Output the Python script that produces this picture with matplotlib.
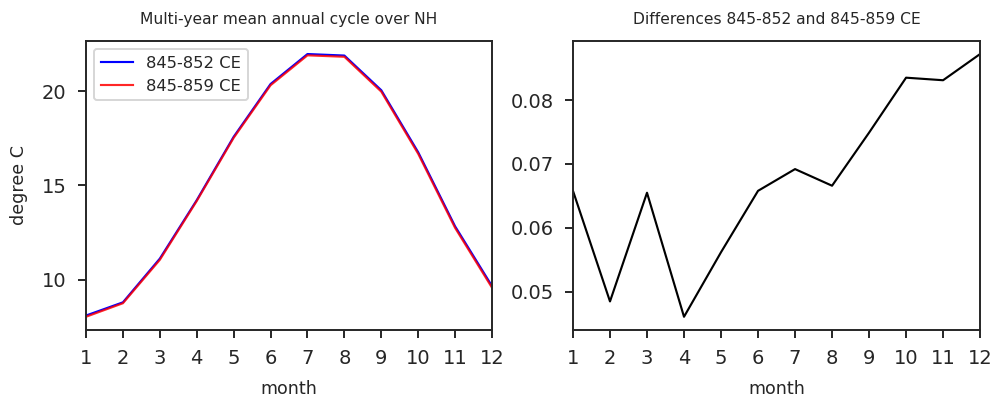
import matplotlib
matplotlib.use('Agg')
import matplotlib.pyplot as plt

months = [1, 2, 3, 4, 5, 6, 7, 8, 9, 10, 11, 12]
nh_845_852 = [8.10, 8.80, 11.12, 14.22, 17.58, 20.38, 21.97, 21.89, 20.05, 16.76, 12.83, 9.66]
nh_845_859 = [8.0342, 8.7515, 11.0545, 14.1739, 17.5238, 20.3142,
              21.9008, 21.8234, 19.9751, 16.6765, 12.7469, 9.5728]

diff = [a - b for a, b in zip(nh_845_852, nh_845_859)]

plt.rcParams['text.color'] = '0.15'
plt.rcParams['axes.labelcolor'] = '0.15'
plt.rcParams['xtick.color'] = '0.15'
plt.rcParams['ytick.color'] = '0.15'
plt.rcParams['axes.edgecolor'] = '0.15'

fig = plt.figure(figsize=(992 / 140, 397 / 140), dpi=140)
ax1 = fig.add_axes([0.0867, 0.169, 0.4093, 0.728])
ax2 = fig.add_axes([0.5776, 0.169, 0.4104, 0.728])

ax1.plot(months, nh_845_852, color='blue', lw=1.1, label='845-852 CE')
ax1.plot(months, nh_845_859, color='red', lw=1.1, alpha=0.85, label='845-859 CE')
ax1.set_xlim(1, 12)
ax1.set_xticks(months)
ax1.set_yticks([10, 15, 20])
ax1.set_xlabel('month', fontsize=9, labelpad=6)
ax1.set_ylabel('degree C', fontsize=9, labelpad=7)
ax1.set_title('Multi-year mean annual cycle over NH', fontsize=8, pad=8.5)
ax1.legend(loc='upper left', fontsize=8.4)

ax2.plot(months, diff, color='black', lw=1.1)
ax2.set_xlim(1, 12)
ax2.set_xticks(months)
ax2.set_xlabel('month', fontsize=9, labelpad=6)
ax2.set_title('Differences 845-852 and 845-859 CE', fontsize=8, pad=8.5)

for ax in (ax1, ax2):
    ax.tick_params(labelsize=10, width=1.0, length=4, pad=6)
    for s in ax.spines.values():
        s.set_linewidth(1.0)

fig.savefig('out.png', dpi=140)
